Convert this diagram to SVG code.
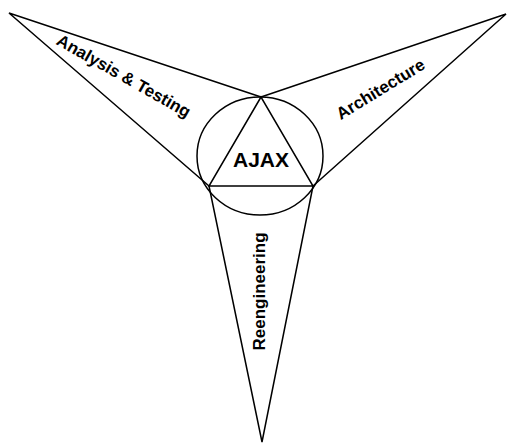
<svg xmlns="http://www.w3.org/2000/svg" width="507" height="444" viewBox="0 0 507 444">
  <style>
    .edge { fill: none; stroke: #000; stroke-width: 1.5; stroke-linejoin: miter; }
    .lbl { font-family: "Liberation Sans", Arial, sans-serif; font-weight: bold; font-size: 17px; fill: #000; text-anchor: middle; }
  </style>
  <rect width="507" height="444" fill="#fff"/>
  <g id="connectors">
    <!-- three wedges meeting at the triangle corners -->
    <polyline class="edge" points="261,97 9,13 209,186"/>
    <polyline class="edge" points="261,97 506,14 313,186"/>
    <polyline class="edge" points="209,186 262,442 313,186"/>
  </g>
  <g id="core">
    <ellipse class="edge" cx="260" cy="156" rx="63" ry="59"/>
    <polygon class="edge" points="261,97 209,186 313,186"/>
    <text class="lbl" x="261" y="167" style="font-size:21px">AJAX</text>
  </g>
  <g id="analysis">
    <text class="lbl" transform="translate(121,81) rotate(29.5)">Analysis &amp; Testing</text>
  </g>
  <g id="architecture">
    <text class="lbl" transform="translate(383.5,94) rotate(-31.5)">Architecture</text>
  </g>
  <g id="reengineering">
    <text class="lbl" transform="translate(265,291.5) rotate(-90)">Reengineering</text>
  </g>
</svg>
